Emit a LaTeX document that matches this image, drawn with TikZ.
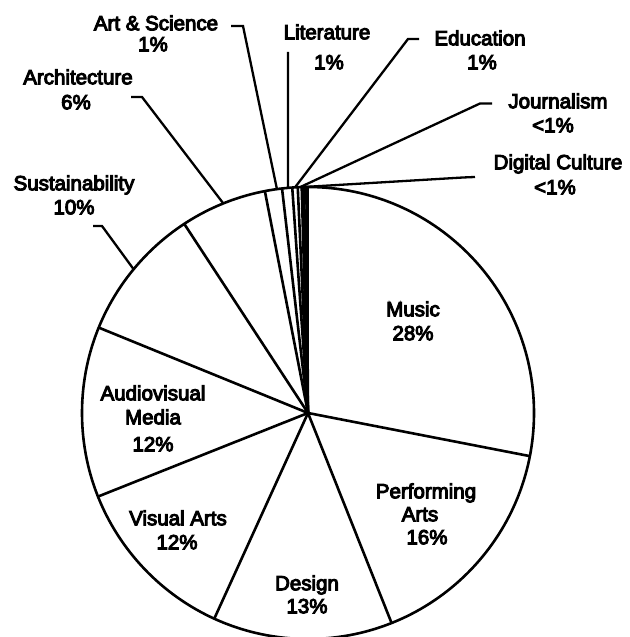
\documentclass[tikz,border=0pt]{standalone}
\usepackage{fontspec}
\setmainfont{Liberation Sans}
\newfontfamily\lblfont{Liberation Sans}[FakeBold=5]
\usetikzlibrary{calc}
\begin{document}
\begin{tikzpicture}[x=1pt,y=1pt,
  lbl/.style={inner sep=0pt, text height=14.5pt, text depth=0pt, font=\lblfont\fontsize{20.5}{24}\selectfont},
  wedge/.style={draw=black, line width=2.6pt, line join=round},
  leader/.style={draw=black, line width=2.3pt, line join=miter}]
\useasboundingbox (0,0) rectangle (629,637);
\coordinate (C) at (308,224);
\def\R{226}
\draw[wedge, fill=white] (C) circle (\R);
\foreach \a in {90,-11,-68.3,-114.5,-158.3,157.8,123.2,101,96.6,94,92.6,91.6,91.0,90.4}
  \draw[wedge] (C) -- ($(C)+(\a:\R)$);

% labels inside
\node[lbl] (music) at (413,328) {Music};
\node[lbl] (musicp) at (413,304) {28\%};
\node[lbl] (perf) at (426,146) {Performing};
\node[lbl] (perf2) at (420,123) {Arts};
\node[lbl] (perfp) at (427,100) {16\%};
\node[lbl] (design) at (307,54) {Design};
\node[lbl] (designp) at (307,31) {13\%};
\node[lbl] (visual) at (178,119) {Visual Arts};
\node[lbl] (visualp) at (177,95) {12\%};
\node[lbl] (av) at (153,244) {Audiovisual};
\node[lbl] (av2) at (153,220) {Media};
\node[lbl] (avp) at (153,193) {12\%};

% outside labels
\node[lbl] (sust) at (74,454) {Sustainability};
\node[lbl] (sustp) at (74,430) {10\%};
\node[lbl] (arch) at (78,560) {Architecture};
\node[lbl] (archp) at (76,535) {6\%};
\node[lbl] (as) at (156,614) {Art \& Science};
\node[lbl] (asp) at (153,593) {1\%};
\node[lbl] (lit) at (327,605) {Literature};
\node[lbl] (litp) at (329,575) {1\%};
\node[lbl] (edu) at (480,599) {Education};
\node[lbl] (edup) at (482,575) {1\%};
\node[lbl] (jour) at (558,536) {Journalism};
\node[lbl] (jourp) at (553,512) {<1\%};
\node[lbl] (dc) at (558,475) {Digital Culture};
\node[lbl] (dcp) at (555,450) {<1\%};

% leader coordinates
\coordinate (asA) at ($(C)+(97.9:\R)$);
\coordinate (asB) at (243,611);
\coordinate (asE) at (231,611);
\coordinate (litA) at ($(C)+(95.1:\R)$);
\coordinate (litE) at (288,585);
\coordinate (eduA) at ($(C)+(93.3:\R)$);
\coordinate (eduB) at (408,598);
\coordinate (eduE) at (419,598);
\coordinate (jourA) at ($(C)+(92:\R)$);
\coordinate (jourB) at (480,533.5);
\coordinate (jourE) at (492,533.5);
\coordinate (dcA) at ($(C)+(91.3:\R)$);
\coordinate (dcB) at (463,459.5);
\coordinate (dcE) at (475,460);
\coordinate (archA) at ($(C)+(112:\R)$);
\coordinate (archB) at (142,540);
\coordinate (archE) at (131,540);
\coordinate (sustA) at ($(C)+(140.5:\R)$);
\coordinate (sustB) at (102,411);
\coordinate (sustE) at (93,411);

\draw[leader] (asA) -- (asB) -- (asE);
\draw[leader] (litA) -- (litE);
\draw[leader] (eduA) -- (eduB) -- (eduE);
\draw[leader] (jourA) -- (jourB) -- (jourE);
\draw[leader] (dcA) -- (dcB) -- (dcE);
\draw[leader] (archA) -- (archB) -- (archE);
\draw[leader] (sustA) -- (sustB) -- (sustE);
\end{tikzpicture}
\end{document}
